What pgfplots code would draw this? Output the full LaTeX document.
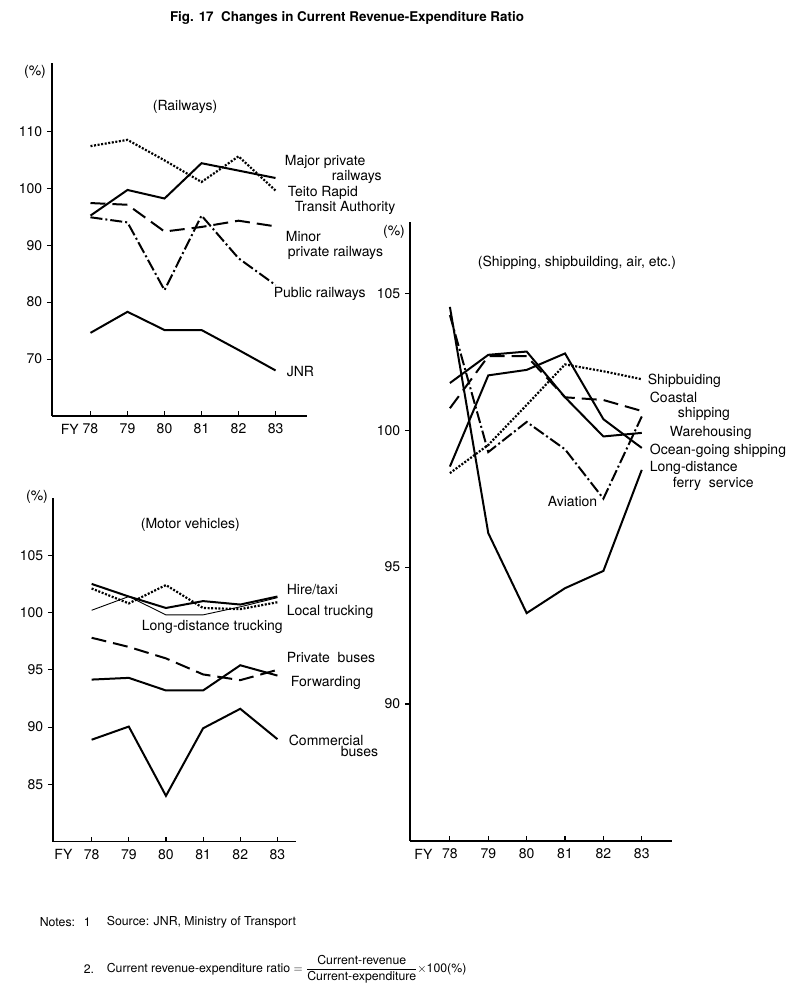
\documentclass[border=0pt]{standalone}
\usepackage{fontspec}
\setmainfont{TeX Gyre Heros}
\usepackage{pgfplots}
\pgfplotsset{compat=1.18}
\pgfplotsset{
  panel/.style={
    scale only axis,
    axis x line*=bottom, axis y line*=left,
    axis line style={line width=1.4pt,-},
    xtick={78,79,80,81,82,83},
    xticklabels={78,79,80,81,82,83},
    xtick align=inside, ytick align=outside,
    major tick length=5pt,
    tick style={line width=1.1pt, black},
    tick label style={font=\fontsize{14}{16}\selectfont},
    x tick label style={yshift=-3pt},
    /pgf/number format/assume math mode=true,
    clip=false,
  },
  solidl/.style={line width=2pt, black},
  thinl/.style={line width=0.9pt, black},
  dottedl/.style={line width=2.2pt, black, dash pattern=on 2pt off 1.6pt},
  dashedl/.style={line width=2pt, black, dash pattern=on 15pt off 7pt},
  dashdotl/.style={line width=2pt, black, dash pattern=on 12pt off 3pt on 2pt off 3pt},
}
\begin{document}
\fontsize{14}{16}\selectfont
\begin{tikzpicture}[x=1pt,y=1pt]
\path[use as bounding box] (0,0) rectangle (803,999);

% Title
\node[font=\fontsize{13.4}{15}\selectfont\bfseries] at (347,981) {Fig. 17\ \ Changes in Current Revenue-Expenditure Ratio};

% ---------------- Railways ----------------
\begin{axis}[panel, at={(52pt,583pt)}, anchor=south west, width=255pt, height=353pt,
  xmin=76.96, xmax=83.85, ymin=60, ymax=122,
  ytick={70,80,90,100,110},
  extra x ticks={77.44}, extra x tick labels={FY}, extra x tick style={major tick length=0pt}]
\addplot[solidl] coordinates {(78,95.2)(79,99.7)(80,98.2)(81,104.4)(82,103.1)(83,101.8)};
\addplot[dottedl] coordinates {(78,107.4)(79,108.5)(80,104.9)(81,101.1)(82,105.6)(83,99.6)};
\addplot[dashedl] coordinates {(78,97.4)(79,97.1)(80,92.4)(81,93.2)(82,94.3)(83,93.3)};
\addplot[dashdotl] coordinates {(78,94.9)(79,94.0)(80,82.1)(81,95.2)(82,87.7)(83,83.0)};
\addplot[solidl] coordinates {(78,74.6)(79,78.3)(80,75.1)(81,75.1)(82,71.6)(83,68.0)};
\end{axis}
\node at (35,927) {(\%)};
\node[anchor=west] at (148,892) {(Railways)};
\node[anchor=west] at (280,837) {Major private};
\node[anchor=west] at (327,822) {railways};
\node[anchor=west] at (283,806) {Teito Rapid};
\node[anchor=west] at (290,791) {Transit Authority};
\node[anchor=west] at (281,762) {Minor};
\node[anchor=west] at (283,746) {private railways};
\node[anchor=west] at (269,705) {Public railways};
\node[anchor=west] at (282,627) {JNR};

% ---------------- Motor vehicles ----------------
\begin{axis}[panel, at={(53pt,157.3pt)}, anchor=south west, width=243pt, height=343.7pt,
  xmin=76.96, xmax=83.5, ymin=80, ymax=110,
  ytick={85,90,95,100,105},
  extra x ticks={77.24}, extra x tick labels={FY}, extra x tick style={major tick length=0pt}]
\addplot[solidl] coordinates {(78,102.5)(79,101.4)(80,100.4)(81,101.0)(82,100.7)(83,101.4)};
\addplot[dottedl] coordinates {(78,102.1)(79,100.8)(80,102.4)(81,100.4)(82,100.3)(83,100.9)};
\addplot[thinl] coordinates {(78,100.2)(79,101.4)(80,99.8)(81,99.8)(82,100.5)(83,101.3)};
\addplot[dashedl] coordinates {(78,97.8)(79,97.0)(80,96.0)(81,94.6)(82,94.1)(83,95.0)};
\addplot[solidl] coordinates {(78,94.15)(79,94.3)(80,93.2)(81,93.2)(82,95.4)(83,94.5)};
\addplot[solidl] coordinates {(78,88.9)(79,90.05)(80,84.0)(81,89.9)(82,91.6)(83,88.95)};
\end{axis}
\node at (37,502) {(\%)};
\node[anchor=west] at (136,474) {(Motor vehicles)};
\node[anchor=west] at (282,409) {Hire/taxi};
\node[anchor=west] at (282,387) {Local trucking};
\node[anchor=west] at (137,372) {Long-distance trucking};
\node[anchor=west] at (282,341) {Private\ \ buses};
\node[anchor=west] at (286,316) {Forwarding};
\node[anchor=west] at (284,259) {Commercial};
\node[anchor=west] at (336,247) {buses};

% ---------------- Shipping ----------------
\begin{axis}[panel, at={(410pt,158pt)}, anchor=south west, width=261.7pt, height=619pt,
  xmin=76.96, xmax=83.78, ymin=85, ymax=107.6,
  ytick={90,95,100,105},
  extra x ticks={77.31}, extra x tick labels={FY}, extra x tick style={major tick length=0pt}]
\addplot[dottedl] coordinates {(78,98.43)(79,99.46)(80,100.92)(81,102.4)(82,102.15)(83,101.86)};
\addplot[dashedl] coordinates {(78,100.8)(79,102.7)(80,102.7)(81,101.2)(82,101.1)(83,100.7)};
\addplot[solidl] coordinates {(78,101.72)(79,102.75)(80,102.87)(81,101.2)(82,99.77)(83,99.9)};
\addplot[solidl] coordinates {(78,98.67)(79,102.0)(80,102.2)(81,102.8)(82,100.4)(83,99.35)};
\addplot[solidl] coordinates {(78,104.5)(79,96.24)(80,93.32)(81,94.23)(82,94.86)(83,98.55)};
\addplot[dashdotl] coordinates {(78,104.2)(79,99.2)(80,100.3)(81,99.3)(82,97.5)(83,100.5)};
\end{axis}
\node at (394,767) {(\%)};
\node[anchor=west] at (473,736) {(Shipping, shipbuilding, air, etc.)};
\node[anchor=west] at (643,618) {Shipbuiding};
\node[anchor=west] at (645,602) {Coastal};
\node[anchor=west] at (673,585) {shipping};
\node[anchor=west] at (665,566) {Warehousing};
\node[anchor=west] at (645,548) {Ocean-going shipping};
\node[anchor=west] at (645,531) {Long-distance};
\node[anchor=west] at (668,515) {ferry\ \ service};
\node[anchor=west] at (543,497) {Aviation};

% ---------------- Notes ----------------
\begin{scope}[every node/.style={font=\fontsize{12.3}{14}\selectfont}]
\node[anchor=west] at (35,77) {Notes:};
\node[anchor=west] at (79,77) {1};
\node[anchor=west] at (102,77) {Source: JNR, Ministry of Transport};
\node[anchor=west] at (79,30) {2.};
\node[anchor=west] at (102,30) {Current revenue-expenditure ratio $=\displaystyle\frac{\mbox{Current-revenue}}{\mbox{Current-expenditure}}\times$100(\%)};
\end{scope}
\end{tikzpicture}
\end{document}
